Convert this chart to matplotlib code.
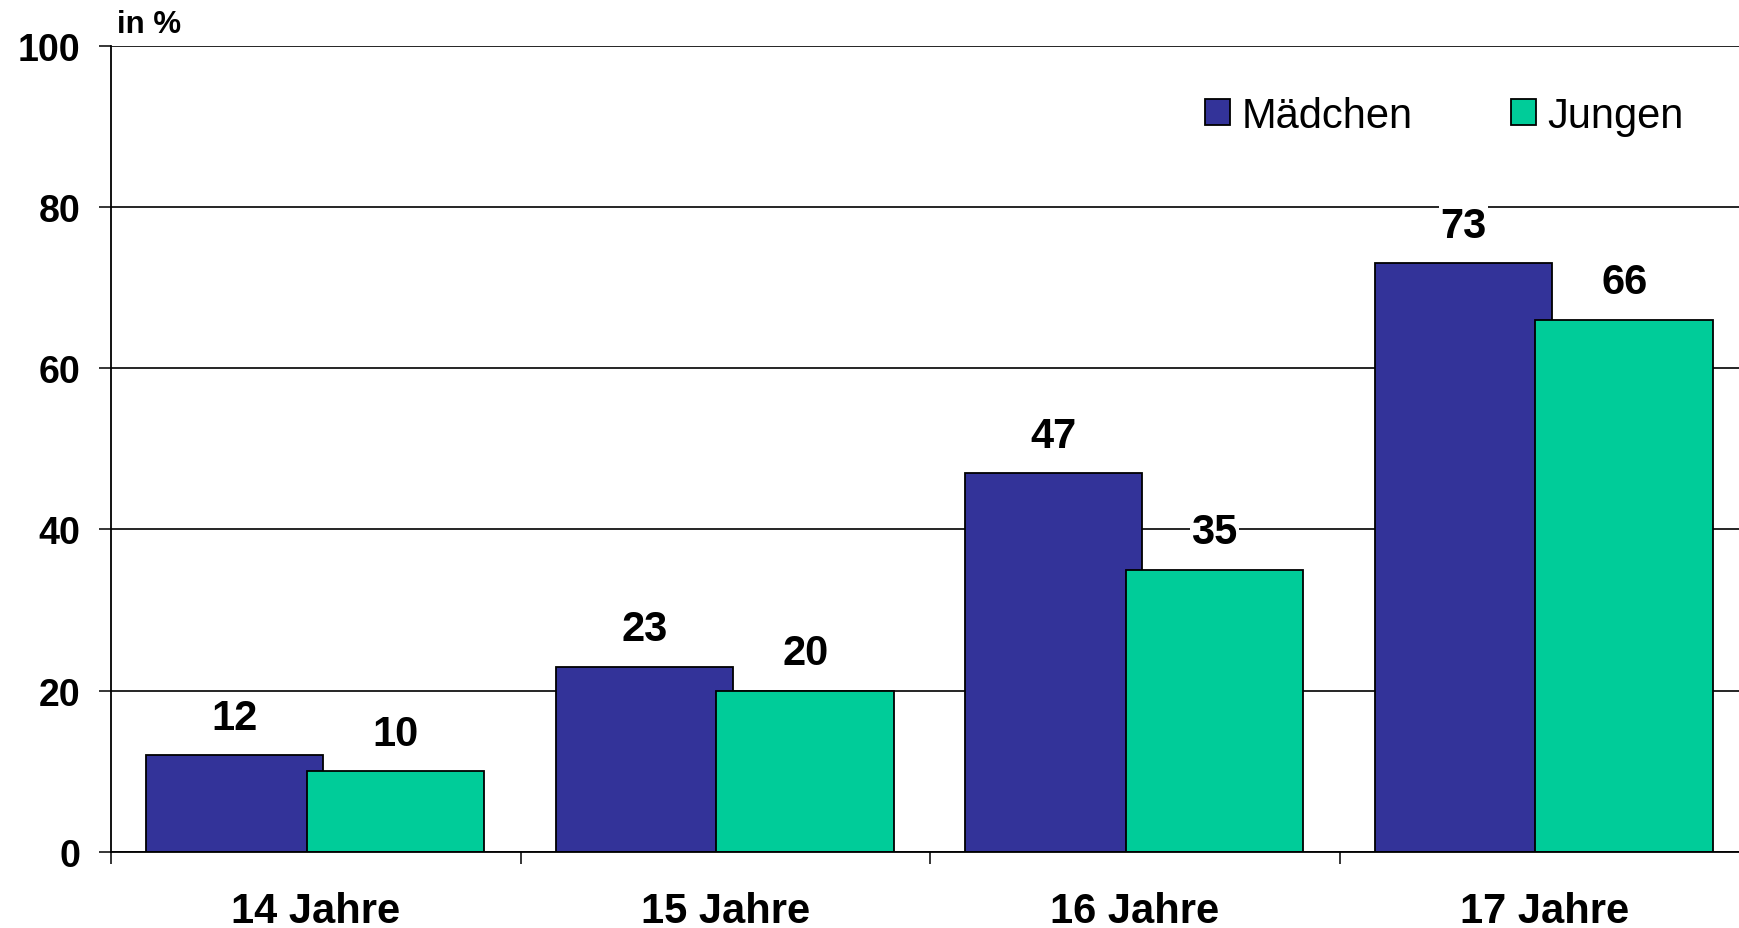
import matplotlib
matplotlib.use("Agg")
import matplotlib.pyplot as plt
import numpy as np

plt.rcParams["font.family"] = ["Liberation Sans", "DejaVu Sans"]

categories = ["14 Jahre", "15 Jahre", "16 Jahre", "17 Jahre"]
maedchen = [12, 23, 47, 73]
jungen = [10, 20, 35, 66]
y_ticks = [0, 20, 40, 60, 80, 100]

BLUE = "#333399"
GREEN = "#00cc99"

fig = plt.figure(figsize=(17.4, 9.29), dpi=100)
ax = fig.add_axes([0.0638, 0.0818, 0.9414, 0.868])

x = np.arange(len(categories))
w = 0.433
b1 = ax.bar(x - 0.198, maedchen, w, color=BLUE, edgecolor="black", linewidth=1.3,
            label="Mädchen", zorder=3)
b2 = ax.bar(x + 0.195, jungen, w, color=GREEN, edgecolor="black", linewidth=1.3,
            label="Jungen", zorder=4)

# value labels with white box so they cut through the gridlines
for bars in (b1, b2):
    labels = ax.bar_label(bars, padding=12.5, fontsize=30, fontweight="bold",
                          bbox=dict(facecolor="white", edgecolor="none", pad=1))
    for t in labels:
        t.set_zorder(5)

ax.set_xlim(-0.5, 3.5)
ax.set_ylim(0, 100)
ax.set_yticks(y_ticks)
ax.set_yticklabels([str(v) for v in y_ticks], fontsize=27, fontweight="bold")
ax.set_xticks(x)
ax.set_xticklabels(categories, fontsize=30, fontweight="bold")
ax.set_xticks(np.arange(-0.5, 4.0, 1.0), minor=True)

ax.tick_params(axis="x", which="major", length=0, pad=28)
ax.tick_params(axis="x", which="minor", length=8.5, width=1.1, direction="out")
ax.tick_params(axis="y", length=9, width=1.1, pad=13)

ax.yaxis.grid(True, color="black", linewidth=1.2, zorder=1)
ax.set_axisbelow(True)
for s in ("top", "right"):
    ax.spines[s].set_visible(False)
for s in ("left", "bottom"):
    ax.spines[s].set_linewidth(1.3)
    ax.spines[s].set_zorder(6)

fig.text(117 / 1740, (929 - 33) / 929, "in %", fontsize=22.5, fontweight="bold",
         ha="left", va="baseline")

leg = ax.legend(loc="center left", bbox_to_anchor=(1205 / 1740, (929 - 117) / 929),
                bbox_transform=fig.transFigure, ncol=2, frameon=False, fontsize=30,
                handlelength=0.6, handleheight=0.58, handletextpad=0.28,
                columnspacing=2.35, borderpad=0, borderaxespad=0)

fig.savefig("out.png", dpi=100)
